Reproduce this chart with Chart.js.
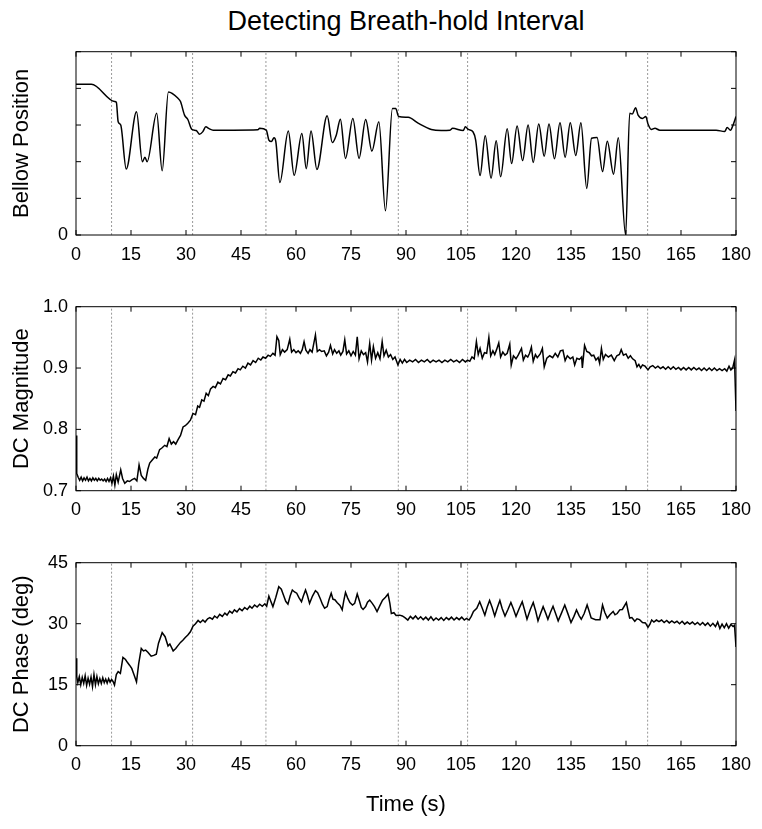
<!DOCTYPE html>
<html>
<head>
<meta charset="utf-8">
<script src="https://cdn.jsdelivr.net/npm/chart.js@4/dist/chart.umd.min.js"></script>
<style>
  body { margin: 0; background: #fff; }
  #wrap { position: relative; width: 762px; height: 829px; font-family: "Liberation Sans", Arial, sans-serif; }
  #title { position: absolute; left: 76px; width: 660px; top: 5px; text-align: center; font-size: 27px; line-height: 32px; color: #000; }
  canvas { position: absolute; left: 0; }
</style>
</head>
<body>
<div id="wrap">
  <div id="title">Detecting Breath-hold Interval</div>
  <canvas id="c1" width="762" height="275" style="top:0px"></canvas>
  <canvas id="c2" width="762" height="255" style="top:275px"></canvas>
  <canvas id="c3" width="762" height="299" style="top:530px"></canvas>
</div>
<script>
// shared x axis
const timeTicks = [0, 15, 30, 45, 60, 75, 90, 105, 120, 135, 150, 165, 180];
const breathHoldTimes = [9.7, 31.8, 51.8, 87.9, 106.8, 155.9];

// bellow position (arbitrary units)
const bellowTicks = [0, 1, 2, 3, 4, 5];
const bellowTime = [
  0, 4.2, 10.5, 11.0, 11.5, 12.2, 13.7, 16.5, 18.1, 18.8,
  19.4, 22.0, 23.5, 25.2, 27.8, 28.5, 29.6, 30.5, 31.6, 32.8,
  33.7, 34.6, 35.4, 36.3, 37.4, 43.0, 49.6, 50.1, 51.9, 52.6,
  53.3, 54.0, 54.5, 55.6, 57.9, 59.5, 61.6, 62.8, 64.1, 65.7,
  68.5, 69.9, 71.0, 72.1, 73.5, 75.5, 77.2, 79.0, 80.7, 82.6,
  84.4, 86.3, 87.2, 88.0, 90.6, 93.3, 96.9, 99.6, 102.0, 102.7,
  105.6, 106.2, 107.0, 108.3, 109.0, 110.2, 111.6, 113.2, 114.6, 115.8,
  117.6, 118.8, 120.3, 121.8, 123.3, 124.7, 126.2, 127.7, 129.0, 130.5,
  132.0, 133.4, 134.8, 136.3, 137.7, 139.3, 140.6, 142.1, 143.6, 144.9,
  146.6, 147.9, 149.9, 151.0, 151.7, 152.6, 153.3, 154.5, 155.4, 156.0,
  156.9, 157.9, 159.2, 167.0, 174.6, 176.9, 177.6, 178.5, 179.2, 180.0
];
const bellowPos = [
  4.11, 4.11, 3.64, 3.62, 3.09, 3.0, 1.8, 3.36, 2.0, 2.12,
  2.0, 3.32, 1.75, 3.9, 3.73, 3.64, 3.27, 3.15, 2.88, 2.85,
  2.75, 2.82, 2.95, 2.9, 2.86, 2.86, 2.87, 2.91, 2.86, 2.59,
  2.55, 2.65, 2.55, 1.43, 2.84, 1.63, 2.77, 1.81, 2.84, 1.79,
  3.25, 2.52, 2.73, 3.16, 2.09, 3.18, 2.09, 3.15, 2.29, 3.09,
  0.66, 3.45, 3.45, 3.23, 3.21, 3.05, 2.88, 2.85, 2.86, 2.91,
  2.85, 2.95, 2.88, 2.81, 2.59, 1.62, 2.71, 1.55, 2.57, 1.59,
  2.90, 1.95, 2.97, 2.03, 3.00, 1.98, 3.03, 2.15, 3.03, 2.08,
  3.06, 2.12, 3.06, 2.17, 3.06, 1.27, 2.64, 2.66, 1.73, 2.56,
  1.66, 2.65, 0.0, 3.32, 3.30, 3.47, 3.27, 3.18, 3.23, 3.03,
  2.88, 2.91, 2.86, 2.86, 2.86, 2.82, 2.93, 2.86, 3.0, 3.23
];

// DC magnitude
const magTicks = [0.7, 0.8, 0.9, 1.0];
const magTime = [
  0, 0.2, 0.6, 1.0, 1.4, 1.8, 2.2, 2.6, 3.0, 3.4,
  3.8, 4.2, 4.6, 5.0, 5.4, 5.8, 6.2, 6.6, 7.0, 7.4,
  7.8, 8.2, 8.6, 9.0, 9.4, 9.8, 10.2, 10.6, 11.0, 11.5,
  12.2, 12.7, 13.3, 14.0, 14.6, 15.3, 16.0, 16.6, 17.2, 17.8,
  18.4, 19.0, 19.6, 20.1, 20.8, 21.5, 22.0, 22.8, 23.5, 24.2,
  24.8, 25.4, 26.0, 26.6, 27.2, 27.8, 28.5, 29.2, 29.8, 30.5,
  31.2, 31.9, 32.6, 33.2, 33.7, 34.3, 34.9, 35.5, 36.1, 36.7,
  37.4, 38.0, 38.7, 39.4, 40.1, 40.8, 41.5, 42.1, 42.8, 43.5,
  44.2, 44.8, 45.5, 46.2, 46.9, 47.6, 48.3, 49.0, 49.7, 50.4,
  51.0, 51.7, 52.4, 53.0, 53.7, 54.3, 54.8, 55.3, 55.7, 56.3,
  56.9, 57.6, 58.3, 58.8, 59.4, 60.0, 60.6, 61.2, 61.7, 62.2,
  62.7, 63.3, 63.8, 64.4, 65.3, 65.8, 66.4, 67.0, 67.7, 68.3,
  68.9, 69.4, 70.0, 70.5, 71.1, 71.7, 72.2, 72.8, 73.3, 73.8,
  74.4, 75.0, 75.6, 76.2, 76.7, 77.2, 77.8, 78.4, 79.0, 79.5,
  80.1, 80.6, 81.1, 81.7, 82.3, 82.9, 83.5, 84.0, 84.6, 85.2,
  85.8, 86.4, 87.0, 87.8, 88.4, 89.0, 89.6, 90.2, 91.0, 91.8,
  92.6, 93.4, 94.2, 95.0, 95.8, 96.6, 97.4, 98.2, 99.0, 99.8,
  100.6, 101.4, 102.2, 103.0, 103.8, 104.6, 105.4, 106.2, 106.8, 107.4,
  108.0, 108.6, 109.2, 109.7, 110.2, 110.8, 111.4, 112.0, 112.6, 113.1,
  113.7, 114.2, 114.7, 115.3, 115.8, 116.4, 117.0, 117.6, 118.3, 118.7,
  119.3, 120.0, 120.6, 121.5, 122.0, 122.6, 123.2, 123.7, 124.2, 124.7,
  125.3, 125.8, 126.6, 127.2, 127.7, 128.4, 129.2, 130.0, 130.7, 131.4,
  132.1, 132.8, 133.4, 134.0, 134.8, 135.5, 136.0, 136.6, 137.3, 137.9,
  138.1, 138.7, 139.3, 140.0, 140.6, 141.2, 141.8, 142.4, 142.8, 143.3,
  143.8, 144.4, 145.2, 146.0, 146.8, 147.5, 148.2, 148.7, 149.3, 150.0,
  150.6, 151.2, 151.8, 152.5, 153.0, 153.5, 154.0, 154.5, 155.2, 156.0,
  156.6, 157.3, 158.0, 158.7, 159.4, 160.1, 160.8, 161.5, 162.2, 162.9,
  163.6, 164.3, 165.0, 165.7, 166.4, 167.1, 167.8, 168.5, 169.2, 169.9,
  170.6, 171.3, 172.0, 172.7, 173.4, 174.1, 174.8, 175.5, 176.2, 176.9,
  177.5, 178.1, 178.6, 179.1, 179.6, 180.0
];
const magValue = [
  0.79, 0.728, 0.722, 0.717, 0.722, 0.716, 0.721, 0.717, 0.722, 0.716,
  0.72, 0.716, 0.721, 0.717, 0.72, 0.716, 0.72, 0.717, 0.719, 0.716,
  0.719, 0.715, 0.72, 0.715, 0.721, 0.712, 0.724, 0.709, 0.726, 0.714,
  0.734, 0.72, 0.712, 0.716, 0.715, 0.718, 0.72, 0.716, 0.742, 0.725,
  0.72, 0.717, 0.735, 0.745, 0.75, 0.755, 0.753, 0.767, 0.77, 0.774,
  0.772, 0.785, 0.776, 0.78, 0.776, 0.783, 0.79, 0.804, 0.806, 0.81,
  0.815, 0.826, 0.824, 0.838, 0.836, 0.848, 0.846, 0.859, 0.855, 0.866,
  0.870, 0.868, 0.877, 0.874, 0.883, 0.881, 0.889, 0.887, 0.894, 0.892,
  0.899, 0.897, 0.903, 0.900, 0.908, 0.905, 0.912, 0.909, 0.916, 0.913,
  0.918, 0.916, 0.921, 0.919, 0.924, 0.921, 0.951, 0.945, 0.922, 0.93,
  0.926, 0.93, 0.947, 0.926, 0.93, 0.925, 0.928, 0.924, 0.93, 0.943,
  0.929, 0.924, 0.93, 0.926, 0.954, 0.927, 0.93, 0.927, 0.928, 0.92,
  0.926, 0.937, 0.923, 0.93, 0.924, 0.928, 0.921, 0.927, 0.946, 0.923,
  0.928, 0.92, 0.927, 0.921, 0.951, 0.915, 0.928, 0.922, 0.925, 0.91,
  0.94, 0.913, 0.935, 0.916, 0.925, 0.915, 0.943, 0.92, 0.929, 0.918,
  0.922, 0.914, 0.918, 0.905, 0.914, 0.908, 0.914, 0.909, 0.913, 0.91,
  0.914, 0.909, 0.913, 0.91, 0.914, 0.909, 0.913, 0.91, 0.913, 0.909,
  0.913, 0.91, 0.914, 0.91, 0.913, 0.909, 0.914, 0.91, 0.913, 0.911,
  0.918, 0.915, 0.943, 0.922, 0.932, 0.916, 0.925, 0.924, 0.95, 0.92,
  0.928, 0.922, 0.93, 0.941, 0.918, 0.926, 0.921, 0.924, 0.939, 0.905,
  0.92, 0.915, 0.921, 0.932, 0.913, 0.921, 0.918, 0.924, 0.934, 0.911,
  0.922, 0.917, 0.923, 0.932, 0.902, 0.916, 0.92, 0.917, 0.924, 0.918,
  0.928, 0.929, 0.912, 0.92, 0.915, 0.918, 0.905, 0.916, 0.914, 0.918,
  0.9, 0.937, 0.927, 0.925, 0.92, 0.921, 0.913, 0.917, 0.908, 0.932,
  0.914, 0.922, 0.918, 0.921, 0.912, 0.92, 0.922, 0.93, 0.921, 0.923,
  0.916, 0.92, 0.915, 0.912, 0.902, 0.906, 0.9, 0.905, 0.903, 0.897,
  0.902, 0.904, 0.9, 0.903, 0.899, 0.902, 0.898, 0.902, 0.898, 0.902,
  0.898, 0.901, 0.897, 0.901, 0.897, 0.901, 0.897, 0.901, 0.897, 0.9,
  0.896, 0.9, 0.896, 0.9, 0.896, 0.9, 0.896, 0.899, 0.896, 0.899,
  0.895, 0.903, 0.897, 0.9, 0.913, 0.83
];

// DC phase in degrees
const phaseTicks = [0, 15, 30, 45];
const phaseTime = [
  0, 0.2, 0.5, 0.9, 1.3, 1.7, 2.1, 2.5, 2.9, 3.3,
  3.7, 4.1, 4.5, 4.9, 5.3, 5.7, 6.1, 6.5, 6.9, 7.3,
  7.7, 8.1, 8.5, 8.9, 9.3, 9.7, 10.1, 10.5, 11.0, 11.5,
  12.1, 12.8, 13.5, 14.0, 14.6, 15.2, 15.8, 16.5, 17.1, 17.8,
  18.4, 19.0, 19.6, 20.5, 21.2, 21.9, 22.5, 23.5, 24.3, 25.1,
  25.6, 26.5, 27.2, 27.8, 28.5, 29.2, 29.8, 30.5, 31.2, 31.9,
  32.6, 33.3, 33.9, 34.6, 35.2, 35.9, 36.5, 37.2, 37.8, 38.5,
  39.2, 39.9, 40.6, 41.2, 41.9, 42.6, 43.2, 43.9, 44.6, 45.3,
  46.0, 46.7, 47.4, 48.0, 48.7, 49.4, 50.1, 50.8, 51.5, 52.0,
  52.6, 53.1, 53.7, 54.5, 55.3, 56.0, 56.6, 57.2, 57.8, 58.4,
  59.0, 59.6, 60.2, 60.8, 61.5, 62.0, 62.6, 63.1, 63.7, 64.5,
  65.3, 65.9, 66.6, 67.2, 67.8, 68.5, 69.0, 69.6, 70.1, 70.6,
  71.2, 72.0, 72.6, 73.0, 73.5, 74.1, 74.7, 75.4, 76.0, 76.7,
  77.3, 77.8, 78.3, 79.0, 79.5, 80.1, 80.8, 81.4, 82.1, 82.9,
  83.6, 84.4, 85.1, 85.6, 86.0, 86.7, 87.3, 88.3, 89.0, 89.7,
  90.5, 91.2, 91.9, 92.6, 93.3, 94.0, 94.7, 95.4, 96.1, 96.8,
  97.5, 98.2, 98.9, 99.6, 100.3, 101.0, 101.7, 102.4, 103.1, 103.8,
  104.5, 105.2, 105.9, 106.5, 107.2, 107.8, 108.4, 109.3, 110.1, 110.8,
  111.5, 112.1, 112.8, 113.5, 114.2, 114.9, 115.6, 116.2, 117.0, 117.8,
  118.6, 119.3, 120.0, 120.9, 121.7, 122.3, 123.0, 123.9, 124.7, 125.4,
  126.0, 126.7, 127.4, 128.1, 128.7, 129.4, 130.1, 130.8, 131.5, 132.4,
  133.3, 134.1, 135.0, 135.8, 136.5, 137.2, 137.8, 138.6, 139.4, 139.9,
  140.5, 141.7, 142.9, 143.6, 144.2, 144.9, 145.6, 146.5, 147.0, 147.6,
  148.3, 149.0, 150.1, 150.6, 151.0, 151.6, 152.4, 153.0, 153.7, 154.5,
  155.3, 156.0, 156.5, 157.0, 157.6, 158.3, 159.0, 159.7, 160.4, 161.1,
  161.8, 162.5, 163.2, 163.9, 164.6, 165.3, 166.0, 166.7, 167.4, 168.1,
  168.8, 169.5, 170.2, 170.9, 171.6, 172.3, 173.0, 173.7, 174.4, 175.0,
  175.6, 176.2, 176.8, 177.4, 178.0, 178.6, 179.2, 179.6, 180.0
];
const phaseDeg = [
  21.5, 17.0, 15.5, 17.0, 15.0, 16.8, 15.3, 17.2, 14.8, 16.6,
  15.1, 16.9, 14.5, 17.5, 15.0, 17.0, 15.2, 16.5, 15.3, 16.7,
  15.5, 16.4, 15.4, 16.5, 15.6, 16.3, 15.8, 14.9, 17.5, 18.2,
  17.8, 21.7, 21.2, 20.5, 19.8, 19.0, 17.5, 15.7, 20.2, 23.9,
  23.3, 23.5, 23.0, 22.0, 22.2, 22.5, 25.2, 27.8, 26.8, 24.5,
  25.0, 23.3, 23.9, 24.6, 25.4, 26.0, 26.6, 27.2, 28.0, 29.4,
  30.0, 30.8, 30.3, 30.9, 30.4, 31.2, 31.5, 31.1, 31.9, 31.4,
  32.3, 31.8, 32.6, 32.1, 33.1, 32.6, 33.4, 32.9, 33.7, 33.2,
  34.0, 33.5, 34.3, 33.8, 34.6, 34.1, 34.8, 34.3, 34.9, 34.3,
  36.8, 35.6, 34.2, 36.5, 39.1, 38.5, 37.0, 35.5, 34.8, 36.8,
  38.3, 37.8, 37.5, 36.4, 35.4, 36.8, 38.3, 37.0, 35.0, 36.8,
  38.1, 37.6, 36.2, 34.8, 33.8, 34.2, 35.9, 37.5, 36.0, 35.9,
  35.2, 34.5, 33.4, 35.5, 37.7, 36.3, 35.2, 34.6, 35.0, 37.3,
  35.6, 34.0, 33.5, 34.2, 35.3, 35.8, 35.0, 34.2, 33.0, 34.5,
  35.8, 36.5, 37.3, 35.0, 32.5, 32.7, 32.0, 32.1, 31.9, 31.5,
  30.9, 31.8, 31.2, 31.9, 31.1, 31.7, 31.0, 31.6, 30.9, 31.7,
  30.8, 31.4, 30.9, 31.5, 30.8, 31.5, 31.0, 31.6, 30.9, 31.5,
  31.0, 31.6, 30.9, 31.3, 30.9, 31.8, 33.0, 33.8, 35.4, 33.8,
  32.1, 34.0, 35.7, 34.0, 31.9, 33.9, 35.7, 33.8, 31.9, 33.5,
  35.2, 33.6, 31.8, 33.8, 35.4, 33.5, 31.1, 33.5, 35.2, 33.0,
  30.7, 32.5, 34.2, 32.6, 31.1, 32.8, 34.3, 32.5, 30.7, 32.6,
  34.6, 32.6, 30.3, 31.8, 33.4, 32.0, 31.1, 32.5, 34.6, 33.2,
  31.4, 31.0, 31.0, 34.6, 32.8, 31.4, 32.2, 33.0, 32.2, 32.5,
  33.4, 33.5, 35.2, 33.0, 31.4, 31.5, 30.6, 31.2, 31.0, 30.3,
  30.2, 29.1, 29.8, 30.9, 30.4, 30.9, 30.5, 30.9, 30.3, 30.8,
  30.2, 30.7, 30.2, 30.6, 30.0, 30.6, 29.9, 30.4, 29.9, 30.4,
  29.8, 30.3, 29.7, 30.3, 29.6, 30.2, 29.4, 30.1, 29.3, 30.4,
  28.8, 29.9, 29.0, 30.0, 28.9, 29.8, 29.3, 29.6, 24.3
];

const FONT = '"Liberation Sans", Arial, sans-serif';

// box around the axes plus inward tick marks on all four sides
const framePlugin = {
  id: 'frame',
  afterDatasetsDraw(chart) {
    const { ctx, chartArea: a, scales: { x, y } } = chart;
    ctx.save();
    ctx.strokeStyle = '#000';
    ctx.lineWidth = 1;
    ctx.strokeRect(a.left, a.top, a.right - a.left, a.bottom - a.top);
    ctx.beginPath();
    x.ticks.forEach(t => {
      const px = x.getPixelForValue(t.value);
      ctx.moveTo(px, a.bottom); ctx.lineTo(px, a.bottom - 5);
      ctx.moveTo(px, a.top); ctx.lineTo(px, a.top + 5);
    });
    y.ticks.forEach(t => {
      const py = y.getPixelForValue(t.value);
      ctx.moveTo(a.left, py); ctx.lineTo(a.left + 5, py);
      ctx.moveTo(a.right, py); ctx.lineTo(a.right - 5, py);
    });
    ctx.stroke();
    ctx.restore();
  }
};

function makePanel(id, times, values, yTicks, yLabel, yFormat, opts) {
  const yMin = yTicks[0];
  const yMax = yTicks[yTicks.length - 1];
  const markers = [];
  breathHoldTimes.forEach(t => {
    markers.push({ x: t, y: yMin }, { x: t, y: yMax }, { x: t, y: null });
  });

  return new Chart(document.getElementById(id), {
    type: 'line',
    data: {
      datasets: [
        {
          data: times.map((t, i) => ({ x: t, y: values[i] })),
          borderColor: '#000',
          borderWidth: 1.5,
          pointRadius: 0,
          tension: opts.smooth ? 0.4 : 0,
          cubicInterpolationMode: opts.smooth ? 'monotone' : 'default',
          order: 1
        },
        {
          data: markers,
          borderColor: '#999',
          borderWidth: 1,
          borderDash: [2, 2],
          pointRadius: 0,
          spanGaps: false,
          order: 2
        }
      ]
    },
    options: {
      responsive: false,
      animation: false,
      devicePixelRatio: 1,
      layout: { padding: { top: opts.padTop, right: 26, left: 0, bottom: 0 } },
      plugins: { legend: { display: false }, tooltip: { enabled: false } },
      scales: {
        x: {
          type: 'linear',
          min: 0,
          max: 180,
          afterFit: s => { s.height = opts.xHeight; },
          afterBuildTicks: s => { s.ticks = timeTicks.map(v => ({ value: v })); },
          grid: { display: false, drawTicks: false },
          border: { display: false },
          ticks: {
            autoSkip: false, maxRotation: 0, padding: 9, color: '#000',
            font: { family: FONT, size: 18 },
            callback: v => String(v)
          },
          title: {
            display: !!opts.xTitle, text: opts.xTitle || '', color: '#000',
            font: { family: FONT, size: 22 },
            padding: { top: 0, bottom: 10.8 }
          }
        },
        y: {
          min: yMin,
          max: yMax,
          afterFit: s => { s.width = 76; },
          afterBuildTicks: s => { s.ticks = yTicks.map(v => ({ value: v })); },
          grid: { display: false, drawTicks: false },
          border: { display: false },
          ticks: {
            padding: 8, color: '#000',
            font: { family: FONT, size: 18 },
            callback: yFormat
          },
          title: {
            display: true, text: yLabel, color: '#000',
            font: { family: FONT, size: 22 },
            padding: { top: 8.5, bottom: 0 }
          }
        }
      }
    },
    plugins: [framePlugin]
  });
}

makePanel('c1', bellowTime, bellowPos, bellowTicks, 'Bellow Position',
  v => (v === 0 ? '0' : ''), { padTop: 51.7, xHeight: 40, smooth: true });
makePanel('c2', magTime, magValue, magTicks, 'DC Magnitude',
  v => v.toFixed(1), { padTop: 31.7, xHeight: 39.3, smooth: false });
makePanel('c3', phaseTime, phaseDeg, phaseTicks, 'DC Phase (deg)',
  v => String(v), { padTop: 32.7, xHeight: 83.3, smooth: false, xTitle: 'Time (s)' });
</script>
</body>
</html>
